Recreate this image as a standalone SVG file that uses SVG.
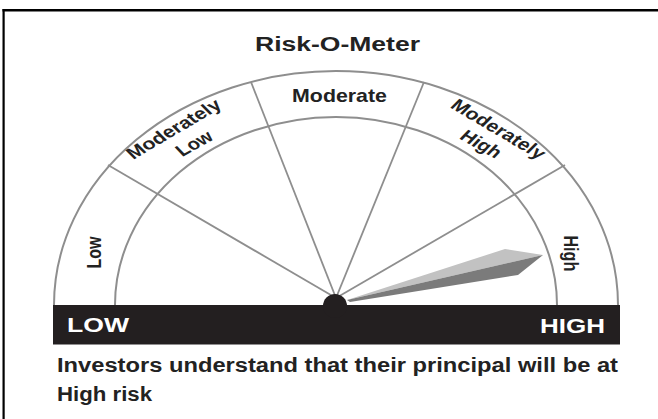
<svg xmlns="http://www.w3.org/2000/svg" width="658" height="419" viewBox="0 0 658 419">
<style>
.t{font-family:"Liberation Sans",Arial,sans-serif;font-weight:bold;fill:#222;}
.w{fill:#fff;}
.arc{fill:none;stroke:#8e8e8e;stroke-width:2;}
.div{stroke:#8e8e8e;stroke-width:1.8;}
</style>
<rect width="658" height="419" fill="#fff"/>
<g id="frame">
<rect x="2.5" y="9" width="656" height="2.5" fill="#000"/>
<rect x="2.5" y="9" width="2.2" height="410" fill="#000"/>
</g>
<g id="title">
<text class="t" transform="translate(337.5,51) scale(1.25,1)" text-anchor="middle" font-size="20" textLength="132" lengthAdjust="spacingAndGlyphs">Risk-O-Meter</text>
</g>
<g id="dial">
<path class="arc" d="M54 305 A282 234 0 0 1 618 305"/>
<path class="arc" d="M115 305 A221 188 0 0 1 557 305"/>
</g>
<g id="connectors">
<line class="div" x1="336" y1="298" x2="108" y2="165"/>
<line class="div" x1="336" y1="298" x2="251" y2="82"/>
<line class="div" x1="336" y1="298" x2="424" y2="82"/>
<line class="div" x1="336" y1="298" x2="565" y2="165"/>
</g>
<g id="seg-low">
<text class="t" transform="translate(100.5,252.5) scale(1.3,1) rotate(-90)" text-anchor="middle" font-size="16" textLength="32" lengthAdjust="spacingAndGlyphs">Low</text>
</g>
<g id="seg-moderately-low">
<text class="t" transform="translate(178,133.5) scale(1.3,1) rotate(-37.5)" text-anchor="middle" font-size="16.5" textLength="87" lengthAdjust="spacingAndGlyphs">Moderately</text>
<text class="t" transform="translate(198.5,148) scale(1.3,1) rotate(-36)" text-anchor="middle" font-size="16.5" textLength="31" lengthAdjust="spacingAndGlyphs">Low</text>
</g>
<g id="seg-moderate">
<text class="t" transform="translate(339.5,102) scale(1.2,1)" text-anchor="middle" font-size="18" textLength="79" lengthAdjust="spacingAndGlyphs">Moderate</text>
</g>
<g id="seg-moderately-high">
<text class="t" transform="translate(494,133.5) scale(1.3,1) rotate(37.5)" text-anchor="middle" font-size="16.5" textLength="87" lengthAdjust="spacingAndGlyphs">Moderately</text>
<text class="t" transform="translate(477,148.5) scale(1.3,1) rotate(36)" text-anchor="middle" font-size="16.5" textLength="35" lengthAdjust="spacingAndGlyphs">High</text>
</g>
<g id="seg-high">
<text class="t" transform="translate(564,253.4) scale(1.3,1) rotate(90)" text-anchor="middle" font-size="16" textLength="36" lengthAdjust="spacingAndGlyphs">High</text>
</g>
<g id="needle">
<polygon points="347,300 505,249 543,255" fill="#c2c2c2"/>
<polygon points="347,300 543,255 518,275 350,302" fill="#7b7b7b"/>
</g>
<g id="bar">
<rect x="53" y="305" width="567" height="39.5" fill="#231f20"/>
<circle cx="335" cy="306" r="12" fill="#231f20"/>
<text class="t w" transform="translate(67,332) scale(1.3,1)" font-size="19.5" textLength="47.7" lengthAdjust="spacingAndGlyphs">LOW</text>
<text class="t w" transform="translate(605,332.5) scale(1.3,1)" text-anchor="end" font-size="19.5" textLength="50" lengthAdjust="spacingAndGlyphs">HIGH</text>
</g>
<g id="caption">
<text class="t" transform="translate(57,372) scale(1.15,1)" font-size="20.5" textLength="487.8" lengthAdjust="spacingAndGlyphs">Investors understand that their principal will be at</text>
<text class="t" transform="translate(57,400.5) scale(1.15,1)" font-size="20.5" textLength="82.6" lengthAdjust="spacingAndGlyphs">High risk</text>
</g>
</svg>
